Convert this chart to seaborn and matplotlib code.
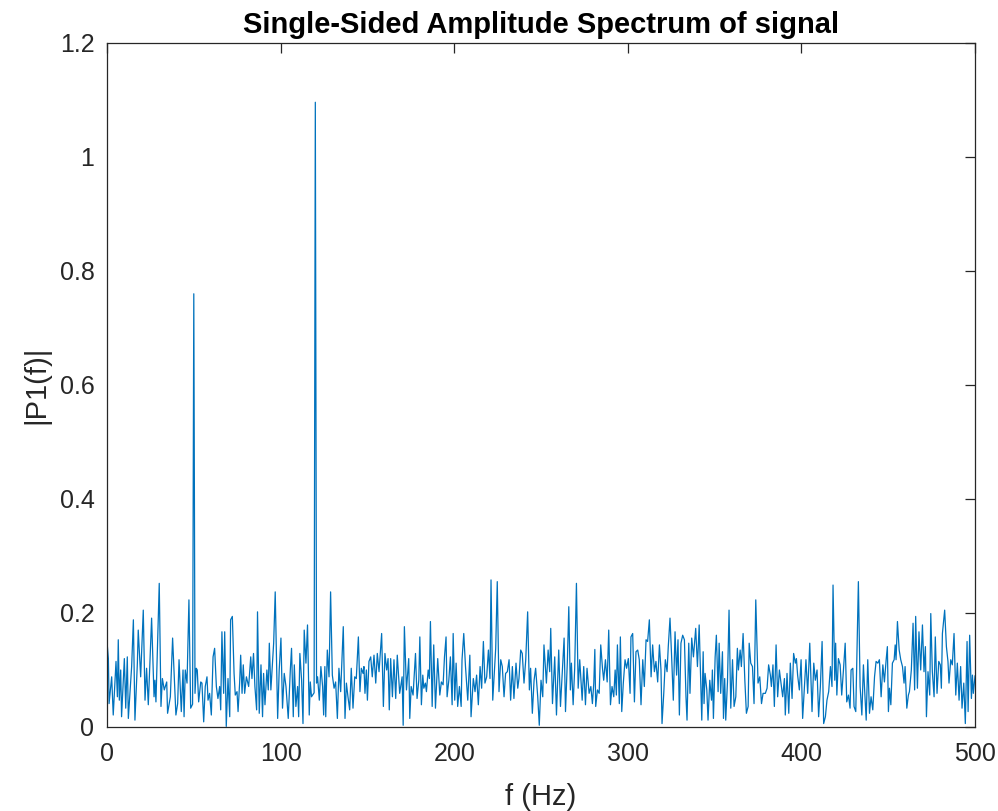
import numpy as np
import seaborn as sns
import matplotlib
matplotlib.use('Agg')
import matplotlib.pyplot as plt

# |P1(f)|, in four frequency bands
freq_0_125 = [0.0, 0.8, 1.2, 2.7, 3.6, 5.2, 6.0, 6.5, 7.1, 7.9, 8.4, 10.0, 10.8, 11.7, 12.3, 14.2, 15.2, 16.1, 17.5, 18.0,
              19.4, 20.9, 21.9, 22.8, 23.8, 25.7, 27.1, 27.6, 28.2, 30.1, 31.1, 31.9, 33.0, 34.4, 34.9, 36.5, 37.8, 39.7, 40.7, 41.5,
              42.8, 43.8, 44.4, 45.1, 46.1, 47.2, 48.2, 49.3, 50.0, 50.7, 51.4, 52.0, 52.8, 54.0, 54.7, 55.7, 56.6, 57.6, 58.2, 59.1,
              60.1, 61.1, 62.0, 63.0, 63.9, 64.9, 65.5, 66.2, 67.2, 67.8, 68.7, 69.7, 70.7, 71.2, 72.2, 73.2, 73.9, 74.9, 75.5, 76.4,
              77.0, 77.8, 78.5, 79.3, 80.3, 81.6, 82.8, 83.5,
              84.4, 85.2, 86.2, 86.7, 87.7, 88.7, 89.6, 90.2, 91.0, 92.1, 92.9, 93.5, 94.4, 96.0, 96.9, 98.3, 99.2, 100.2, 101.1, 102.1,
              103.1, 104.4, 105.6, 106.3, 107.3, 107.9, 108.8, 109.8, 110.4, 111.1, 112.1, 112.9, 113.6, 114.6, 115.5, 116.5, 117.1, 117.8, 119.3, 120.0,
              120.7, 121.3, 122.3, 123.2, 124.2, 124.8, 125.5]
amp_0_125 = [0.150, 0.120, 0.041, 0.088, 0.021, 0.115, 0.053, 0.153, 0.047, 0.100, 0.018, 0.120, 0.033, 0.123, 0.015, 0.106, 0.188, 0.012, 0.112, 0.170,
             0.088, 0.205, 0.047, 0.103, 0.039, 0.191, 0.053, 0.082, 0.044, 0.252, 0.036, 0.085, 0.065, 0.079, 0.024, 0.053, 0.156, 0.021, 0.041, 0.118,
             0.027, 0.100, 0.018, 0.100, 0.077, 0.223, 0.033, 0.040, 0.760, 0.059, 0.103, 0.100, 0.044, 0.079, 0.077, 0.009, 0.071, 0.088, 0.047, 0.059,
             0.021, 0.123, 0.138, 0.071, 0.050, 0.071, 0.030, 0.167, 0.059, 0.167, 0.001, 0.085, 0.018, 0.188, 0.194, 0.094, 0.056, 0.062, 0.027, 0.077,
             0.126, 0.059, 0.109, 0.059, 0.088, 0.071, 0.123, 0.085,
             0.129, 0.071, 0.030, 0.202, 0.024, 0.109, 0.018, 0.094, 0.039, 0.100, 0.065, 0.147, 0.065, 0.147, 0.237, 0.015, 0.100, 0.156, 0.033, 0.094,
             0.071, 0.015, 0.100, 0.138, 0.018, 0.109, 0.036, 0.071, 0.018, 0.129, 0.082, 0.006, 0.170, 0.112, 0.179, 0.021, 0.079, 0.053, 0.060, 1.096,
             0.077, 0.088, 0.047, 0.106, 0.071, 0.021, 0.106]

freq_126_252 = [126.0, 126.9, 127.9, 128.8, 129.8, 130.8, 131.7, 132.7, 133.6, 134.6, 136.1, 137.1, 137.9, 138.8, 139.8, 140.7, 141.7, 142.7, 143.6, 144.8,
                145.7, 146.5, 147.5, 148.0, 148.6, 149.4, 150.0, 150.9, 151.9, 152.8, 153.8, 154.8, 155.7, 156.7, 158.2, 159.2, 160.1, 161.1, 161.9, 162.6,
                163.4, 164.4, 165.3, 166.3, 167.2,
                168.6, 170.0, 170.6, 171.3, 172.5, 173.8, 174.4, 175.2, 176.3, 177.7, 178.6, 179.6, 180.2, 181.1, 181.9, 182.5, 183.4, 184.0, 185.0, 185.7,
                186.3, 187.3, 188.2, 189.2, 190.5, 191.7, 192.6, 193.6, 194.4, 195.3, 195.9, 196.9, 197.8, 198.8, 199.4, 200.3, 201.1, 202.0, 203.0, 204.0,
                204.5, 205.5, 206.5, 207.8, 209.0, 209.7,
                211.0, 212.0, 212.9, 213.9, 214.9, 215.8, 216.8, 217.7, 218.7, 219.7, 220.6, 221.2, 222.2, 222.9, 223.9, 224.8, 225.8, 226.8, 227.7, 228.7,
                229.6, 230.6, 231.6, 232.5, 233.5, 234.4, 235.6, 236.6, 237.3, 238.3, 239.2, 240.2, 241.2, 242.3, 243.3, 244.0, 245.0, 246.0, 246.9, 248.1,
                249.0, 250.0, 251.0, 251.7]
amp_126_252 = [0.018, 0.135, 0.088, 0.237, 0.091, 0.068, 0.079, 0.015, 0.103, 0.062, 0.176, 0.015, 0.077, 0.053, 0.030, 0.103, 0.033, 0.088, 0.085, 0.158,
               0.062, 0.103, 0.094, 0.106, 0.059, 0.100, 0.047, 0.115, 0.123, 0.088, 0.126, 0.077, 0.129, 0.097, 0.164, 0.036, 0.129, 0.100, 0.120, 0.030,
               0.120, 0.053, 0.118, 0.050, 0.126,
               0.059, 0.088, 0.003, 0.176, 0.065, 0.120, 0.015, 0.071, 0.056, 0.129, 0.050, 0.082, 0.158, 0.039, 0.091, 0.068, 0.077, 0.062, 0.100, 0.085,
               0.185, 0.036, 0.144, 0.033, 0.120, 0.056, 0.079, 0.074, 0.123, 0.158, 0.053, 0.082, 0.123, 0.039, 0.164, 0.047, 0.112, 0.036, 0.071, 0.036,
               0.118, 0.164, 0.106, 0.047, 0.126, 0.018,
               0.085, 0.062, 0.091, 0.039, 0.106, 0.068, 0.150, 0.077, 0.088, 0.135, 0.085, 0.258, 0.047, 0.085, 0.138, 0.255, 0.062, 0.118, 0.106, 0.053,
               0.094, 0.097, 0.118, 0.047, 0.106, 0.050, 0.112, 0.068, 0.085, 0.135, 0.129, 0.077, 0.118, 0.202, 0.065, 0.103, 0.024, 0.082, 0.103, 0.053,
               0.003, 0.082, 0.053, 0.144]

freq_253_378 = [253.1, 254.1, 255.0, 255.6, 256.6, 257.9, 258.9, 260.2, 261.2, 262.3, 263.3, 264.1, 265.2, 266.0, 266.9, 267.5, 268.5, 269.4, 270.4, 271.4,
                272.3, 273.7, 274.6, 275.6, 276.5, 277.7, 278.7, 279.6, 280.4, 281.0, 281.5, 282.5, 283.5, 284.4, 285.4, 286.1, 287.1, 288.1, 289.0, 290.0,
                290.9, 291.9, 292.7, 293.4, 294.0,
                295.1, 295.7, 296.5, 297.4, 298.4, 299.3, 300.3, 301.3, 301.8, 302.8, 303.8, 304.7, 305.7, 306.6, 307.6, 308.6, 309.5, 310.5, 311.4, 312.4,
                313.4, 314.3, 315.3, 316.2, 317.2, 318.2, 319.1, 319.7, 320.7, 321.6, 322.6, 323.3, 324.3, 325.3, 326.2, 327.2, 328.1, 328.9, 329.7, 330.6,
                331.6, 332.6, 333.5, 334.1, 335.1, 335.8,
                336.8, 337.8, 339.1, 340.1, 341.1, 342.0, 342.6, 343.4, 343.9, 344.5, 345.5, 346.2, 347.2, 348.2, 348.7, 349.3, 350.3, 351.0, 352.0, 352.6,
                353.5, 354.5, 355.1, 355.8, 356.4, 357.4, 358.3, 359.3, 360.3, 361.2, 362.2, 363.1, 363.7, 364.7, 365.4, 366.4, 367.4, 368.3, 369.3, 369.9,
                370.8, 371.8, 372.7, 373.7, 375.0, 376.0, 377.0, 377.9]
amp_253_378 = [0.077, 0.135, 0.097, 0.173, 0.041, 0.123, 0.021, 0.135, 0.036, 0.100, 0.156, 0.027, 0.118, 0.211, 0.065, 0.112, 0.039, 0.103, 0.252, 0.068,
               0.118, 0.047, 0.106, 0.039, 0.103, 0.059, 0.071, 0.041, 0.077, 0.136, 0.036, 0.065, 0.059, 0.144, 0.103, 0.082, 0.118, 0.079, 0.170, 0.039,
               0.071, 0.053, 0.100, 0.056, 0.144,
               0.041, 0.158, 0.027, 0.077, 0.118, 0.103, 0.120, 0.059, 0.158, 0.164, 0.044, 0.132, 0.135, 0.118, 0.039, 0.118, 0.071, 0.153, 0.150, 0.188,
               0.088, 0.144, 0.097, 0.115, 0.079, 0.144, 0.100, 0.006, 0.059, 0.118, 0.097, 0.141, 0.191, 0.118, 0.047, 0.167, 0.091, 0.153, 0.021, 0.147,
               0.161, 0.153, 0.053, 0.012, 0.147, 0.059,
               0.156, 0.123, 0.173, 0.106, 0.179, 0.082, 0.012, 0.132, 0.041, 0.094, 0.065, 0.012, 0.082, 0.047, 0.100, 0.015, 0.123, 0.161, 0.062, 0.147,
               0.059, 0.132, 0.015, 0.085, 0.012, 0.079, 0.205, 0.033, 0.118, 0.036, 0.053, 0.138, 0.100, 0.135, 0.106, 0.164, 0.082, 0.024, 0.036, 0.147,
               0.112, 0.106, 0.041, 0.223, 0.077, 0.088, 0.041, 0.059]

freq_379_500 = [379.2, 380.2, 381.1, 382.1, 382.7, 383.6, 384.4, 385.4, 386.3, 387.3, 388.2, 389.2, 390.2, 390.7, 391.7, 392.7, 393.6, 394.6, 395.5, 396.5,
                397.1, 397.8, 398.8, 399.8, 400.7, 401.7, 402.6, 403.6, 404.8, 406.1, 407.1, 408.0, 409.0, 409.9, 410.9, 411.9, 412.8, 413.8, 414.7, 415.7,
                416.7, 417.6, 418.2, 419.2, 419.7, 420.4,
                421.3, 422.3, 423.2, 424.2, 425.2, 426.1, 427.1, 428.0, 428.6, 429.6, 430.3, 431.3, 431.9, 432.8, 433.8, 434.8, 435.7, 436.3, 437.3, 438.2,
                439.2, 440.1, 441.1, 442.1, 443.0, 444.0, 444.9, 445.9, 446.9, 447.8, 448.8, 449.5, 450.1, 450.7, 451.5, 452.4, 453.4, 454.0, 454.5, 455.3,
                456.3, 457.2, 458.2, 459.1, 459.7, 460.7, 461.6, 462.2,
                463.3, 464.3, 465.2, 465.8, 466.8, 467.7, 468.7, 469.7, 470.6, 471.4, 472.0, 472.9, 473.9, 474.5, 475.4, 476.4, 477.1, 478.1, 479.1, 480.0,
                480.6, 481.2, 482.5, 483.5, 484.4, 485.0, 486.0, 486.9, 487.9, 488.9, 489.8, 490.8, 491.7, 492.5, 493.5, 494.4, 495.4, 496.0, 496.9, 497.9,
                498.5, 499.0, 500.0]
amp_379_500 = [0.059, 0.068, 0.109, 0.091, 0.071, 0.109, 0.036, 0.144, 0.053, 0.100, 0.077, 0.053, 0.085, 0.021, 0.094, 0.024, 0.112, 0.050, 0.129, 0.112,
               0.120, 0.091, 0.065, 0.118, 0.015, 0.071, 0.118, 0.059, 0.147, 0.027, 0.112, 0.082, 0.100, 0.018, 0.071, 0.150, 0.006, 0.018, 0.047, 0.062,
               0.106, 0.071, 0.249, 0.082, 0.147, 0.056,
               0.120, 0.109, 0.056, 0.100, 0.147, 0.044, 0.056, 0.033, 0.100, 0.103, 0.036, 0.027, 0.115, 0.255, 0.071, 0.021, 0.109, 0.071, 0.012, 0.118,
               0.024, 0.053, 0.030, 0.088, 0.115, 0.112, 0.118, 0.053, 0.109, 0.079, 0.118, 0.141, 0.027, 0.068, 0.039, 0.112, 0.118, 0.144, 0.118, 0.185,
               0.135, 0.118, 0.106, 0.077, 0.106, 0.033, 0.056, 0.062,
               0.100, 0.182, 0.065, 0.194, 0.068, 0.167, 0.100, 0.179, 0.097, 0.141, 0.018, 0.097, 0.056, 0.199, 0.097, 0.053, 0.158, 0.059, 0.115, 0.109,
               0.068, 0.164, 0.205, 0.141, 0.115, 0.077, 0.118, 0.109, 0.164, 0.056, 0.112, 0.047, 0.106, 0.033, 0.077, 0.006, 0.150, 0.027, 0.161, 0.050,
               0.091, 0.059, 0.090]

x_ticks = [0, 100, 200, 300, 400, 500]
y_ticks = [0, 0.2, 0.4, 0.6, 0.8, 1.0, 1.2]
y_tick_labels = ['0', '0.2', '0.4', '0.6', '0.8', '1', '1.2']

f = np.array(freq_0_125 + freq_126_252 + freq_253_378 + freq_379_500)
p1 = np.array(amp_0_125 + amp_126_252 + amp_253_378 + amp_379_500)

sns.set_style('white')
plt.rcParams['font.family'] = ['Liberation Sans', 'DejaVu Sans']

fig = plt.figure(figsize=(9.98, 8.11), dpi=100)
ax = fig.add_axes([0.1072, 0.1036, 0.8698, 0.8434])

sns.lineplot(x=f, y=p1, color='#0072BD', linewidth=0.9,
             estimator=None, sort=False, ax=ax)

ax.set_xlim(0, 500)
ax.set_ylim(0, 1.2)
ax.set_xticks(x_ticks)
ax.set_xticklabels([str(t) for t in x_ticks])
ax.set_yticks(y_ticks)
ax.set_yticklabels(y_tick_labels)
ax.tick_params(direction='in', length=7, width=0.9, top=True, right=True,
               colors='#262626', labelsize=18)
ax.tick_params(axis='x', pad=11)
ax.tick_params(axis='y', pad=9)
for s in ax.spines.values():
    s.set_visible(True)
    s.set_color('#262626')
    s.set_linewidth(0.9)

ax.set_title('Single-Sided Amplitude Spectrum of signal', fontsize=21,
             fontweight='bold', color='black', pad=7)
ax.set_xlabel('f (Hz)', fontsize=21, color='#262626', labelpad=12)
ax.set_ylabel('|P1(f)|', fontsize=21, color='#262626', labelpad=7)

fig.savefig('out.png', dpi=100)
